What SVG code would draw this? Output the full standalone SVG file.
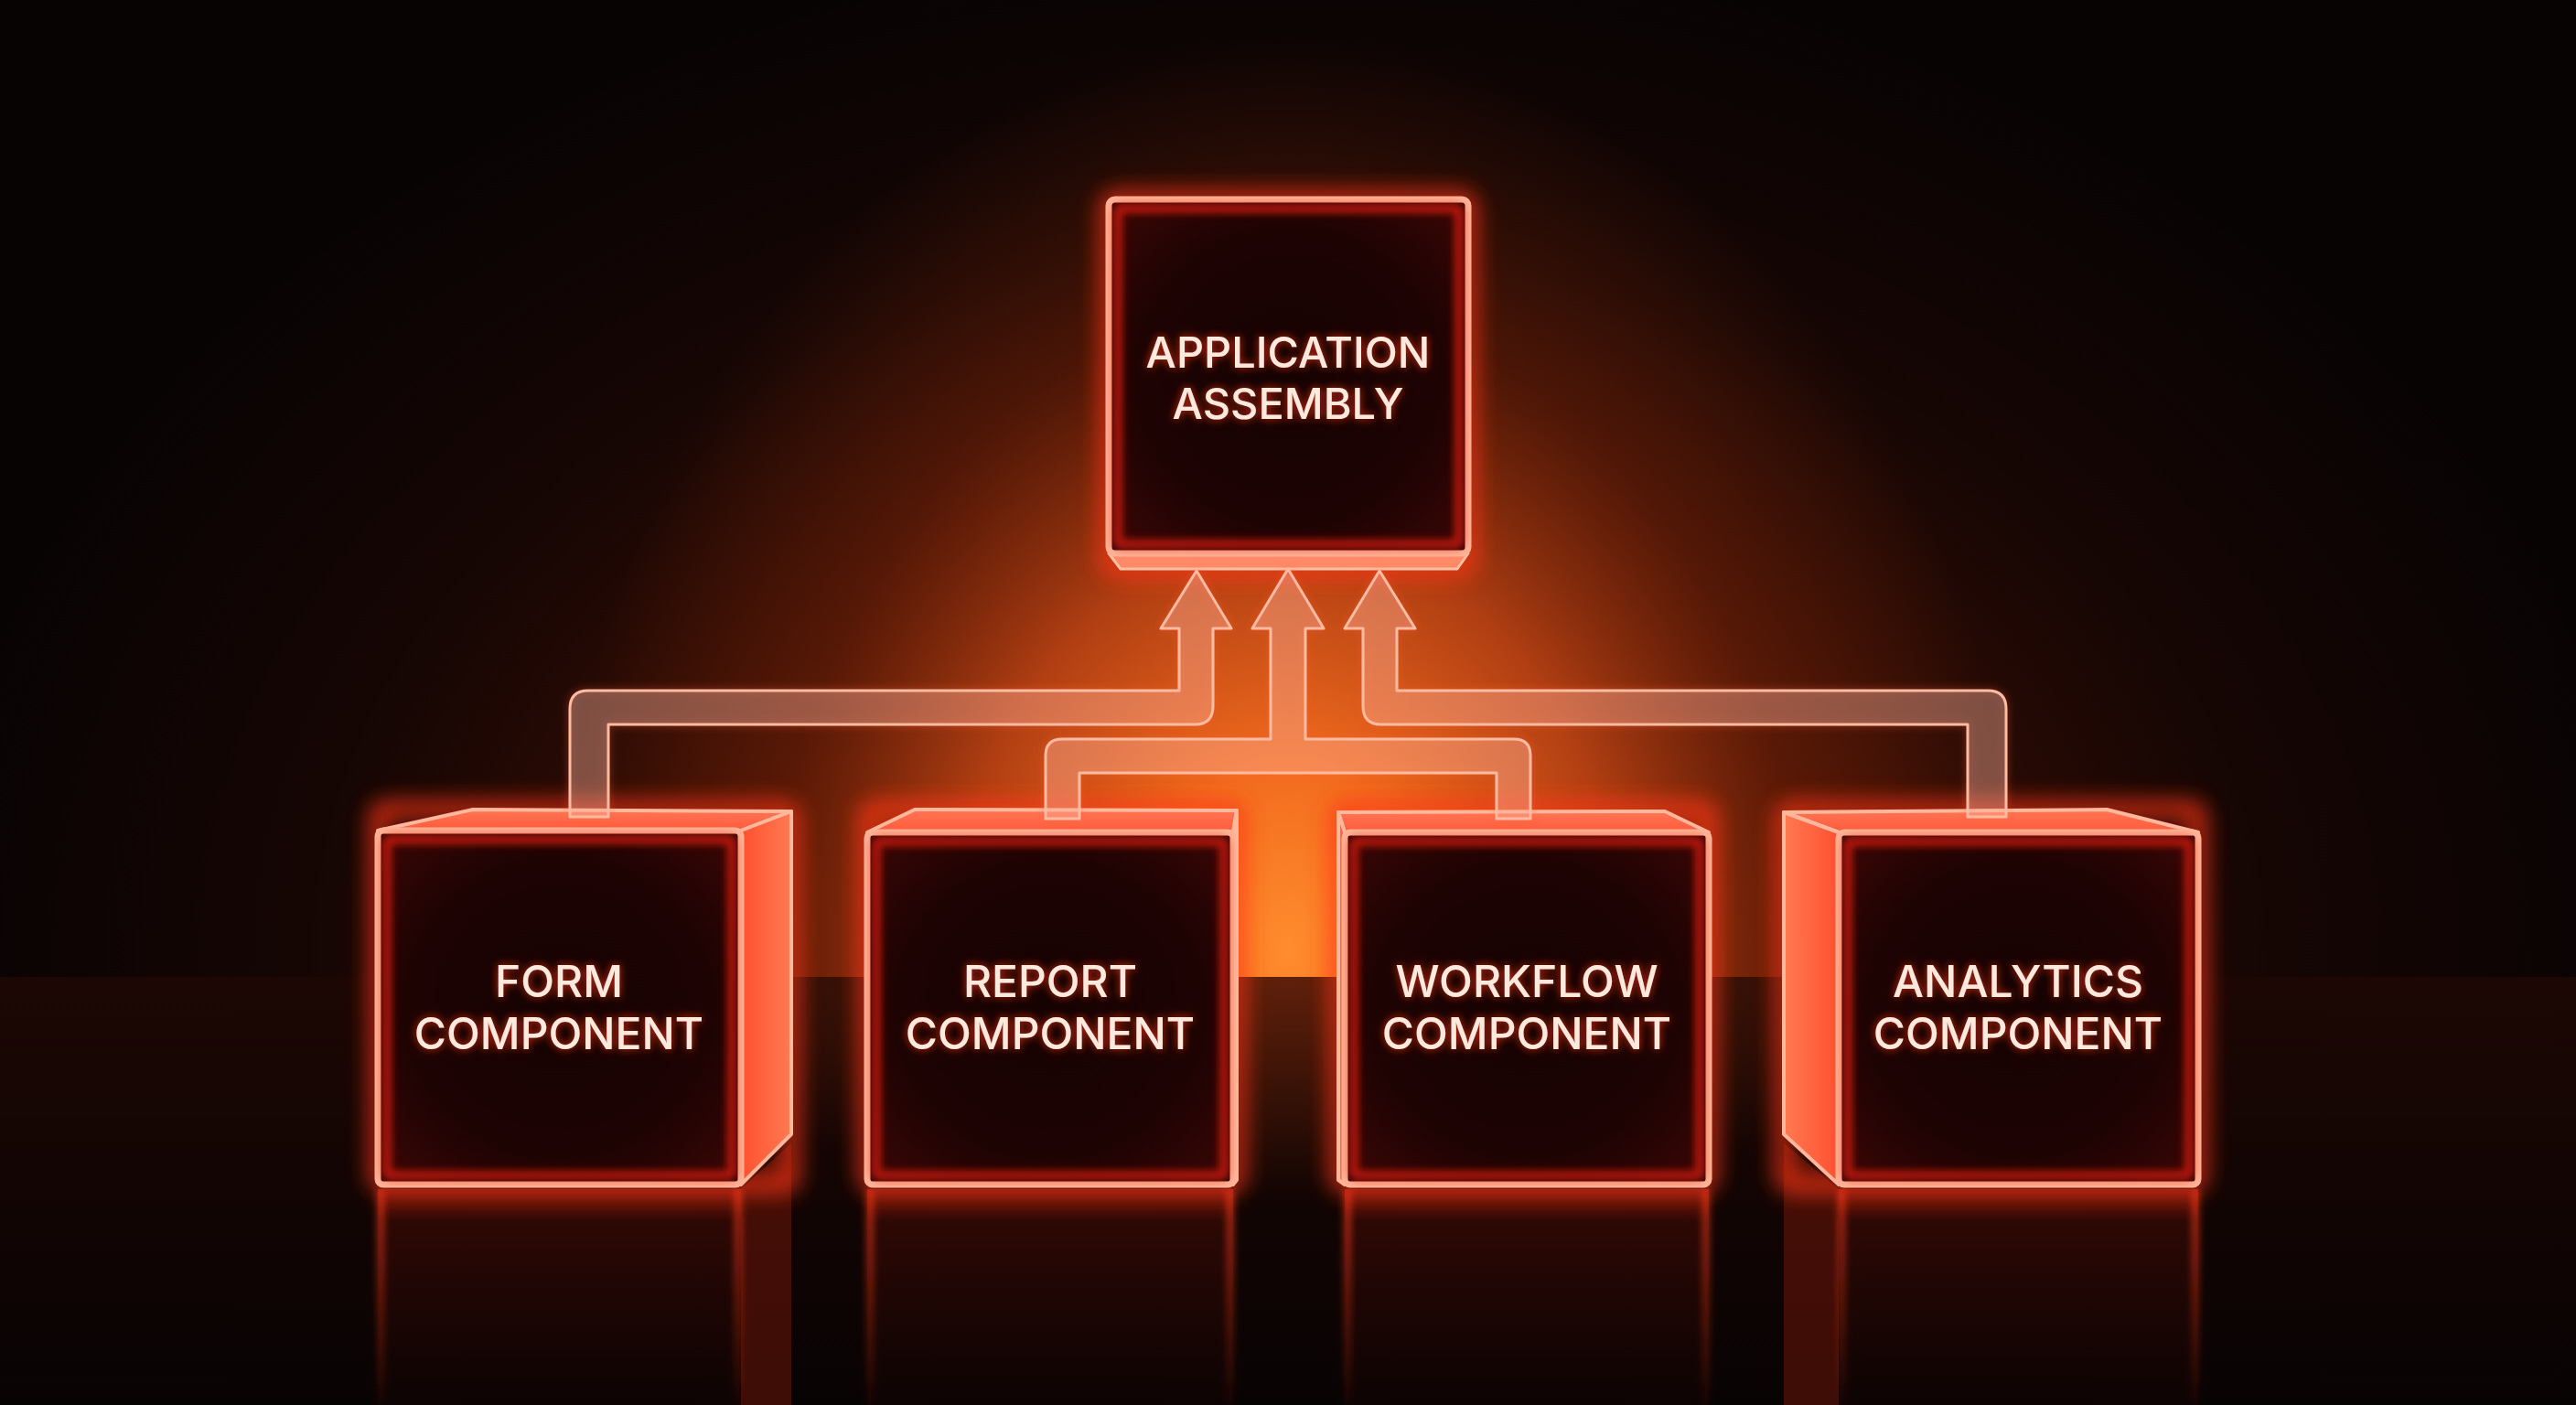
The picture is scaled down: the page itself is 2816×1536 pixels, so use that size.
<svg xmlns="http://www.w3.org/2000/svg" width="2816" height="1536" viewBox="0 0 2816 1536">
<defs>
  <radialGradient id="bgWide" gradientUnits="userSpaceOnUse" cx="1408" cy="1060" r="1500" gradientTransform="translate(1408 1060) scale(1 0.75) translate(-1408 -1060)">
    <stop offset="0" stop-color="#7a2408"/>
    <stop offset="0.4" stop-color="#3a0e04"/>
    <stop offset="0.7" stop-color="#160604"/>
    <stop offset="1" stop-color="#080303"/>
  </radialGradient>
  <radialGradient id="bgCore" gradientUnits="userSpaceOnUse" cx="1408" cy="1040" r="1000" gradientTransform="translate(1408 1040) scale(0.8 1) translate(-1408 -1040)">
    <stop offset="0" stop-color="#ff8c2e" stop-opacity="1"/>
    <stop offset="0.2" stop-color="#f26c1e" stop-opacity="1"/>
    <stop offset="0.45" stop-color="#cc4a16" stop-opacity="0.8"/>
    <stop offset="0.7" stop-color="#8a2a0a" stop-opacity="0.4"/>
    <stop offset="1" stop-color="#8a2a0a" stop-opacity="0"/>
  </radialGradient>
  <linearGradient id="floorGrad" x1="0" y1="0" x2="0" y2="1">
    <stop offset="0" stop-color="#1c0704"/>
    <stop offset="1" stop-color="#080303"/>
  </linearGradient>
  <radialGradient id="floorGlow" gradientUnits="userSpaceOnUse" cx="1408" cy="1068" r="800" gradientTransform="translate(1408 1068) scale(1 0.3) translate(-1408 -1068)">
    <stop offset="0" stop-color="#ff5a1a" stop-opacity="0.3"/>
    <stop offset="1" stop-color="#ff5a1a" stop-opacity="0"/>
  </radialGradient>
  <radialGradient id="faceGrad" cx="0.5" cy="0.5" r="0.7">
    <stop offset="0" stop-color="#150202"/>
    <stop offset="0.6" stop-color="#1e0303"/>
    <stop offset="1" stop-color="#3c0706"/>
  </radialGradient>
  <linearGradient id="sideR" x1="0" y1="0" x2="1" y2="0">
    <stop offset="0" stop-color="#ff5030"/>
    <stop offset="1" stop-color="#ff7a52"/>
  </linearGradient>
  <linearGradient id="sideL" x1="1" y1="0" x2="0" y2="0">
    <stop offset="0" stop-color="#ff5030"/>
    <stop offset="1" stop-color="#ff7a52"/>
  </linearGradient>
  <linearGradient id="topGrad" x1="0" y1="0" x2="0" y2="1">
    <stop offset="0" stop-color="#ff7656"/>
    <stop offset="1" stop-color="#ff5a3a"/>
  </linearGradient>
  <linearGradient id="reflGrad" x1="0" y1="0" x2="0" y2="1">
    <stop offset="0" stop-color="#b8200e" stop-opacity="0.55"/>
    <stop offset="0.15" stop-color="#3a0a05" stop-opacity="0.7"/>
    <stop offset="1" stop-color="#200604" stop-opacity="0.2"/>
  </linearGradient>
  <linearGradient id="reflEdge" x1="0" y1="0" x2="0" y2="1">
    <stop offset="0" stop-color="#ff3a1a" stop-opacity="0.9"/>
    <stop offset="1" stop-color="#ff3a1a" stop-opacity="0.05"/>
  </linearGradient>
  <filter id="blur12" x="-20%" y="-20%" width="140%" height="140%">
    <feGaussianBlur stdDeviation="12"/>
  </filter>
  <filter id="blur4" x="-20%" y="-20%" width="140%" height="140%">
    <feGaussianBlur stdDeviation="4"/>
  </filter>
  <filter id="tglow" x="-15%" y="-40%" width="130%" height="180%">
    <feGaussianBlur in="SourceAlpha" stdDeviation="5" result="b"/>
    <feFlood flood-color="#ff3414" flood-opacity="0.85"/>
    <feComposite in2="b" operator="in" result="g"/>
    <feMerge><feMergeNode in="g"/><feMergeNode in="SourceGraphic"/></feMerge>
  </filter>
  <filter id="pglow" x="-10%" y="-10%" width="120%" height="120%">
    <feGaussianBlur in="SourceAlpha" stdDeviation="5" result="b"/>
    <feFlood flood-color="#ff5a30" flood-opacity="0.5"/>
    <feComposite in2="b" operator="in" result="g"/>
    <feMerge><feMergeNode in="g"/><feMergeNode in="SourceGraphic"/></feMerge>
  </filter>
</defs>
<style>
  .halo { fill: none; stroke: #ff3418; stroke-width: 18; filter: url(#blur12); opacity: 0.85; }
  .front { fill: url(#faceGrad); stroke: #ffb296; stroke-width: 7; }
  .inner { fill: none; stroke: #d81c10; stroke-width: 10; filter: url(#blur4); opacity: 0.8; }
  .top { fill: url(#topGrad); stroke: #ffb89c; stroke-width: 4; stroke-linejoin: round; }
  .sideR { fill: url(#sideR); stroke: #ffb89c; stroke-width: 4; stroke-linejoin: round; }
  .sideL { fill: url(#sideL); stroke: #ffb89c; stroke-width: 4; stroke-linejoin: round; }
  .ledge { fill: #ff8a68; stroke: #ffc0a4; stroke-width: 3; stroke-linejoin: round; }
  .label { font-family: Inter, "Liberation Sans", sans-serif; font-weight: 500; fill: #ffe9dc; text-anchor: middle; filter: url(#tglow); }
  .pipe { fill: #ffc8b4; fill-opacity: 0.3; stroke: #ffbba0; stroke-width: 3; stroke-linejoin: round; filter: url(#pglow); }
  .refl { fill: url(#reflGrad); }
  .redge { stroke: url(#reflEdge); stroke-width: 6; fill: none; filter: url(#blur4); }
</style>

<!-- background -->
<rect x="0" y="0" width="2816" height="1536" fill="url(#bgWide)"/>
<rect x="0" y="0" width="2816" height="1068" fill="url(#bgCore)"/>
<rect x="0" y="1068" width="2816" height="468" fill="url(#floorGrad)"/>
<rect x="0" y="1068" width="2816" height="468" fill="url(#floorGlow)"/>

<!-- floor reflections -->
<g id="reflections">
  <rect class="refl" x="413" y="1300" width="397" height="236"/>
  <polygon points="810,1300 865,1250 865,1536 810,1536" fill="#b8260e" opacity="0.3"/>
  <path class="redge" d="M416 1300 V1536 M807 1300 V1536"/>
  <rect class="refl" x="948" y="1300" width="400" height="236"/>
  <path class="redge" d="M951 1300 V1536 M1345 1300 V1536"/>
  <rect class="refl" x="1470" y="1300" width="398" height="236"/>
  <path class="redge" d="M1473 1300 V1536 M1865 1300 V1536"/>
  <rect class="refl" x="2010" y="1300" width="393" height="236"/>
  <polygon points="2010,1300 1950,1250 1950,1536 2010,1536" fill="#b8260e" opacity="0.3"/>
  <path class="redge" d="M2013 1300 V1536 M2400 1300 V1536"/>
</g>

<!-- top node -->
<g id="application-assembly">
  <rect class="halo" x="1212" y="218" width="393" height="404" rx="8"/>
  <polygon class="ledge" points="1212,605 1605,605 1593,622 1225,622"/>
  <rect class="front" x="1212" y="218" width="393" height="387" rx="7"/>
  <rect class="inner" x="1222" y="228" width="373" height="367" rx="4"/>
  <text class="label" x="1408" y="402" font-size="47">APPLICATION</text>
  <text class="label" x="1408" y="458" font-size="47">ASSEMBLY</text>
</g>

<!-- bottom nodes -->
<g id="form-component">
  <rect class="halo" x="413" y="885" width="452" height="410" rx="8"/>
  <polygon class="top" points="413,908 517,885 865,887 810,908"/>
  <polygon class="sideR" points="810,908 865,887 865,1240 810,1295"/>
  <rect class="front" x="413" y="908" width="397" height="387" rx="6"/>
  <rect class="inner" x="423" y="918" width="377" height="367" rx="4"/>
  <text class="label" x="611" y="1090" font-size="48">FORM</text>
  <text class="label" x="611" y="1147" font-size="48">COMPONENT</text>
</g>

<g id="report-component">
  <rect class="halo" x="948" y="885" width="404" height="410" rx="8"/>
  <polygon class="top" points="948,910 1000,885 1352,886 1348,910"/>
  <polygon class="sideR" points="1348,910 1352,886 1352,1290 1348,1295"/>
  <rect class="front" x="948" y="910" width="400" height="385" rx="6"/>
  <rect class="inner" x="958" y="920" width="380" height="365" rx="4"/>
  <text class="label" x="1148" y="1090" font-size="48">REPORT</text>
  <text class="label" x="1148" y="1147" font-size="48">COMPONENT</text>
</g>

<g id="workflow-component">
  <rect class="halo" x="1463" y="885" width="405" height="410" rx="8"/>
  <polygon class="top" points="1470,910 1463,888 1820,887 1868,910"/>
  <polygon class="sideL" points="1470,910 1463,888 1463,1290 1470,1295"/>
  <rect class="front" x="1470" y="910" width="398" height="385" rx="6"/>
  <rect class="inner" x="1480" y="920" width="378" height="365" rx="4"/>
  <text class="label" x="1669" y="1090" font-size="48">WORKFLOW</text>
  <text class="label" x="1669" y="1147" font-size="48">COMPONENT</text>
</g>

<g id="analytics-component">
  <rect class="halo" x="1950" y="885" width="453" height="410" rx="8"/>
  <polygon class="top" points="2010,910 1950,888 2303,885 2403,910"/>
  <polygon class="sideL" points="2010,910 1950,888 1950,1240 2010,1295"/>
  <rect class="front" x="2010" y="910" width="393" height="385" rx="6"/>
  <rect class="inner" x="2020" y="920" width="373" height="365" rx="4"/>
  <text class="label" x="2206" y="1090" font-size="48">ANALYTICS</text>
  <text class="label" x="2206" y="1147" font-size="48">COMPONENT</text>
</g>

<!-- connectors -->
<g id="connectors">
  <path class="pipe" d="M623 893 V775 Q623 755 643 755 H1289 V687 H1269 L1308 624 L1346 687 H1326 V772 Q1326 792 1306 792 H665 V893 Z"/>
  <path class="pipe" d="M1143 895 V826 Q1143 808 1161 808 H1389 V687 H1369 L1408 622 L1447 687 H1427 V808 H1655 Q1673 808 1673 826 V895 H1636 V845 H1180 V895 Z"/>
  <path class="pipe" d="M2193 893 V775 Q2193 755 2173 755 H1527 V687 H1547 L1508 624 L1470 687 H1490 V772 Q1490 792 1510 792 H2151 V893 Z"/>
</g>
</svg>
